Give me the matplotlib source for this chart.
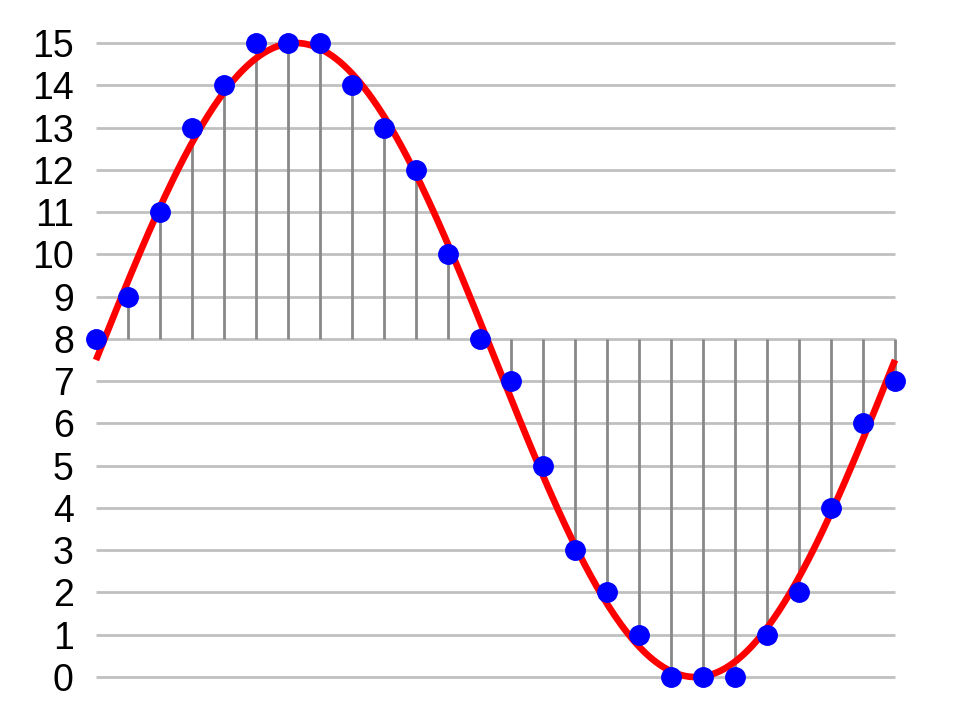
import numpy as np
import matplotlib.pyplot as plt

# 4-bit samples
sample_index = list(range(26))
sample_value = [8, 9, 11, 13, 14, 15, 15, 15, 14, 13, 12, 10, 8,
                7, 5, 3, 2, 1, 0, 0, 0, 1, 2, 4, 6, 7]
y_ticks = list(range(16))
baseline = 8

# analog signal: sine wave parameters
offset = 7.5
amplitude = 7.5
period = 25

plt.rcParams['font.family'] = ['Liberation Sans', 'DejaVu Sans']

fig = plt.figure(figsize=(9.6, 7.2), dpi=100)
ax = fig.add_axes([0.1, 0.0597, 0.8323, 0.8806])

for y in y_ticks:
    ax.plot([0, 25], [y, y], color="#c0c0c0", lw=2, zorder=1,
            solid_capstyle="butt", clip_on=False)

for x, v in zip(sample_index, sample_value):
    if v != baseline:
        ax.plot([x, x], [baseline, v], color="#888888", lw=2, zorder=2,
                solid_capstyle="butt", clip_on=False)

t = np.linspace(0, period, 400)
ax.plot(t, offset + amplitude * np.sin(2 * np.pi * t / period), color="#ff0000",
        lw=4.8, zorder=3, solid_capstyle="butt", clip_on=False)

ax.plot(sample_index, sample_value, "o", color="#0000ff", markersize=14,
        zorder=4, clip_on=False)

ax.set_xlim(0, 25)
ax.set_ylim(0, 15)
ax.set_yticks(y_ticks)
ax.set_xticks([])
ax.tick_params(axis="y", length=0, pad=16, labelsize=27)
for s in ax.spines.values():
    s.set_visible(False)

fig.savefig("out.png", dpi=100)
